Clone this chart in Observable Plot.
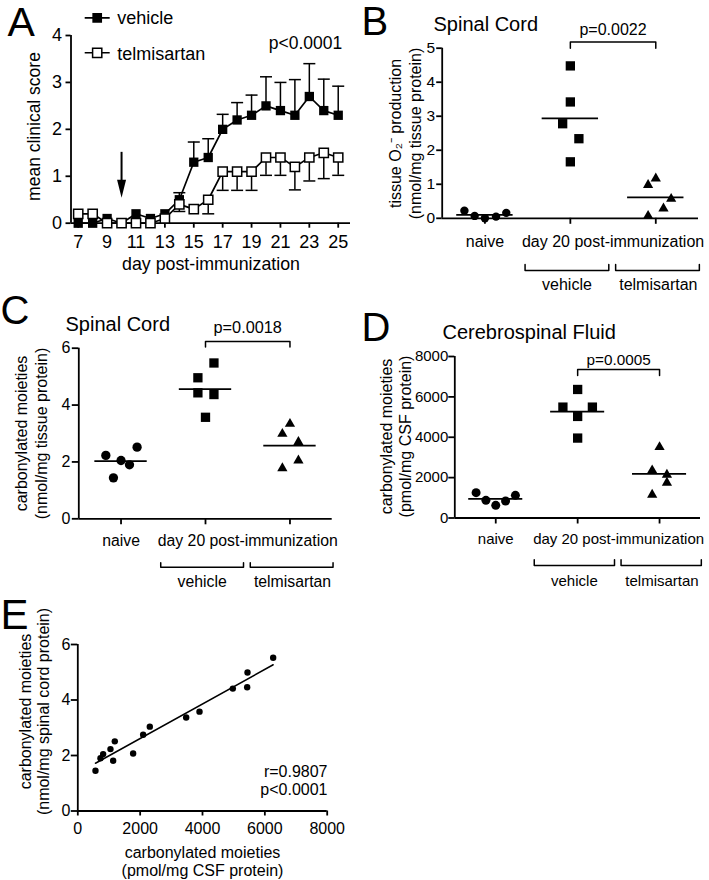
<!DOCTYPE html>
<html><head><meta charset="utf-8">
<script src="https://cdn.jsdelivr.net/npm/d3@7"></script>
<script src="https://cdn.jsdelivr.net/npm/@observablehq/plot@0.6"></script>
<style>
html,body{margin:0;padding:0;background:#fff;}
#fig{position:relative;width:709px;height:880px;overflow:hidden;}
#fig > svg{position:absolute;}
</style></head><body><div id="fig"></div>
<script>
// ---------- DATA ----------
// Panel A: mean clinical score by day
const days = [7,8,9,10,11,12,13,14,15,16,17,18,19,20,21,22,23,24,25];
const vehicleMean = [0,0,0.1,0,0.2,0.1,0.2,0.5,1.3,1.4,2.0,2.2,2.3,2.5,2.4,2.3,2.7,2.4,2.3];
const vehicleSEM  = [0,0,0,0,0,0,0,0.15,0.43,0.4,0.32,0.37,0.43,0.62,0.6,0.76,0.7,0.67,0.62];
const telmiMean   = [0.2,0.2,0,0,0,0,0.1,0.4,0.3,0.5,1.1,1.1,1.1,1.4,1.4,1.2,1.4,1.5,1.4];
const telmiSEM    = [0,0,0,0,0,0,0,0.15,0,0.3,0.4,0.4,0.4,0.38,0.38,0.49,0.5,0.55,0.38];
const legendLabels = ["vehicle", "telmisartan"];
const aTicks = [7,9,11,13,15,17,19,21,23,25];

// Groups for panels B-D
const groupNames = ["naive", "vehicle", "telmisartan"];
const categoryLabels = ["naive", "day 20 post-immunization"];
const treatmentLabels = ["vehicle", "telmisartan"];

// Panel B: tissue O2- production (nmol/mg tissue protein)
const o2Naive   = [0.22,0.07,0.0,0.05,0.16];
const o2Vehicle = [4.48,3.42,2.78,2.34,1.66];
const o2Telmi   = [0.98,1.17,0.57,0.29,0.07];
const o2Spread  = [[-0.24,-0.12,0,0.13,0.25],[0,0,-0.09,0.1,0],[-0.09,0,0.18,0.09,-0.09]];

// Panel C: carbonylated moieties, spinal cord (nmol/mg tissue protein)
const scNaive   = [2.23,1.44,2.05,1.90,2.52];
const scVehicle = [4.96,5.48,4.43,4.37,3.57];
const scTelmi   = [2.99,3.34,2.70,2.05,1.78];
const scSpread  = [[-0.18,-0.09,0,0.1,0.19],[-0.09,0.1,-0.09,0.1,0],[-0.09,0,0.1,0.1,-0.09]];

// Panel D: carbonylated moieties, CSF (pmol/mg CSF protein)
const csfNaive   = [1254,874,627,841,1122];
const csfVehicle = [6367,5493,5493,5031,3959];
const csfTelmi   = [3513,2359,2144,1748,1155];
const csfSpread  = [[-0.24,-0.12,0,0.12,0.24],[0,-0.18,0.18,0,0],[0,-0.09,0.09,0.09,-0.09]];

// Panel E: correlation CSF vs spinal cord
const eCSF = [567,727,813,1048,1134,1187,1775,2096,2310,3476,3904,4973,5433,5444,6267];
const eSC  = [1.45,1.90,2.05,2.23,1.81,2.51,2.07,2.75,3.04,3.37,3.58,4.41,4.46,4.99,5.52];

// ---------- HELPERS ----------
const FONT = '"Liberation Sans", Arial, Helvetica, sans-serif';
const styleFor = (fs) => ({fontFamily: FONT, fontSize: fs + "px", color: "black", background: "transparent", overflow: "visible"});
const intFmt = d3.format("d");
const fig = document.getElementById("fig");

function place(P, svg) {
  svg.style.position = "absolute";
  svg.style.left = P.left + "px";
  svg.style.top = P.top + "px";
  fig.appendChild(svg);
}
// text placed at absolute page coordinates (baseline anchor)
function absText(P, str, ax, ay, o = {}) {
  return Plot.text([str], {text: d => d, frameAnchor: "top-left",
    dx: ax - P.left - P.ml, dy: ay - P.top - P.mt,
    lineAnchor: "bottom", textAnchor: "start", fill: "black", fontFamily: FONT, ...o});
}
const capSym = {draw(c) { c.moveTo(-6, 0); c.lineTo(6, 0); }};
const arrowSym = {draw(c) { c.moveTo(-4.5, -18); c.lineTo(4.5, -18); c.lineTo(0, 0); c.closePath(); }};
const legendSym = (h) => ({draw(c) {
  c.moveTo(-12.5, 0); c.lineTo(-h, 0); c.moveTo(h, 0); c.lineTo(12.5, 0);
  c.moveTo(-h, -h); c.lineTo(h, -h); c.lineTo(h, h); c.lineTo(-h, h); c.closePath();
}});

// ---------- PANEL A ----------
{
  const P = {left: 0, top: 0, width: 360, height: 285, ml: 70.5, mr: 10, mt: 35, mb: 62.3};
  const veh = days.map((d, i) => ({day: d, m: vehicleMean[i], e: vehicleSEM[i]}));
  const tel = days.map((d, i) => ({day: d, m: telmiMean[i], e: telmiSEM[i]}));
  const svg = Plot.plot({
    width: P.width, height: P.height, marginLeft: P.ml, marginRight: P.mr, marginTop: P.mt, marginBottom: P.mb,
    style: styleFor(18),
    x: {domain: [6.5, 25.85]},
    y: {domain: [0, 4]},
    marks: [
      Plot.axisY({ticks: [0,1,2,3,4], tickSize: 5, tickPadding: 4, strokeWidth: 1.8, label: null, tickFormat: intFmt}),
      Plot.axisX({ticks: aTicks, tickSize: 5, tickPadding: 7, strokeWidth: 1.8, label: null, tickFormat: intFmt}),
      Plot.ruleX([6.5], {strokeWidth: 1.8}),
      Plot.ruleY([0], {strokeWidth: 1.8}),
      // treatment start arrow (day 10)
      Plot.ruleX([10], {y1: 1.51, y2: 0.8, strokeWidth: 2}),
      Plot.dot([10], {x: d => d, y: 0.54, symbol: arrowSym, fill: "black", stroke: "none"}),
      // vehicle
      Plot.ruleX(veh.filter(d => d.e > 0), {x: "day", y1: "m", y2: d => d.m + d.e, strokeWidth: 1.5}),
      Plot.dot(veh.filter(d => d.e > 0), {x: "day", y: d => d.m + d.e, symbol: capSym, stroke: "black", fill: "none", strokeWidth: 1.5}),
      Plot.line(veh, {x: "day", y: "m", strokeWidth: 1.7}),
      Plot.dot(veh, {x: "day", y: "m", symbol: "square", r: 5.25, fill: "black", stroke: "none"}),
      // telmisartan
      Plot.ruleX(tel.filter(d => d.e > 0), {x: "day", y1: "m", y2: d => d.m - d.e, strokeWidth: 1.5}),
      Plot.dot(tel.filter(d => d.e > 0), {x: "day", y: d => d.m - d.e, symbol: capSym, stroke: "black", fill: "none", strokeWidth: 1.5}),
      Plot.line(tel, {x: "day", y: "m", strokeWidth: 1.7}),
      Plot.dot(tel, {x: "day", y: "m", symbol: "square", r: 5.2, fill: "white", stroke: "black", strokeWidth: 1.5}),
      // legend
      Plot.dot([0], {frameAnchor: "top-left", dx: 96.7 - P.ml, dy: 17.3 - P.mt, symbol: legendSym(4.0), fill: "black", stroke: "black", strokeWidth: 1.7}),
      Plot.dot([0], {frameAnchor: "top-left", dx: 96.7 - P.ml, dy: 52.3 - P.mt, symbol: legendSym(4.6), fill: "white", stroke: "black", strokeWidth: 1.5}),
      absText(P, legendLabels[0], 116.7, 23.3, {fontSize: 18}),
      absText(P, legendLabels[1], 116.7, 59.3, {fontSize: 18}),
      absText(P, "p<0.0001", 341.7, 48.3, {fontSize: 17.5, textAnchor: "end"}),
      absText(P, "A", 7, 35, {fontSize: 41}),
      absText(P, "mean clinical score", 39.3, 126, {fontSize: 17.5, rotate: -90, textAnchor: "middle"}),
      absText(P, "day post-immunization", 210.5, 269.3, {fontSize: 17.8, textAnchor: "middle"})
    ]
  });
  place(P, svg);
}

// ---------- SCATTER PANELS (B, C, D) ----------
function scatterPanel(P, o) {
  const rows = [];
  o.groups.forEach((vals, g) => vals.forEach((v, i) => rows.push({g, x: g + o.spread[g][i], v})));
  const means = o.groups.map((vals, g) => ({g, m: d3.mean(vals)}));
  const syms = ["circle", "square", "triangle"];
  const br = (x1, x2, yEnd, yLine) => [[x1, yEnd], [x1, yLine], [x2, yLine], [x2, yEnd]];
  const yMin = o.yDomain[0];
  return Plot.plot({
    width: P.width, height: P.height, marginLeft: P.ml, marginRight: P.mr, marginTop: P.mt, marginBottom: P.mb,
    style: styleFor(o.tickFont),
    x: {domain: [-0.5, 2.5]},
    y: {domain: o.yDomain},
    marks: [
      Plot.axisY({ticks: o.yTicks, tickSize: o.tickSize, tickPadding: o.tickPad, strokeWidth: 1.8, label: null, tickFormat: intFmt}),
      Plot.axisX({ticks: [0, 1, 2], tickSize: 6, tickFormat: () => "", strokeWidth: 1.8, label: null}),
      Plot.ruleX([-0.5], {strokeWidth: 1.8}),
      Plot.ruleY([yMin], {strokeWidth: 1.8}),
      ...[0, 1, 2].map(g => Plot.dot(rows.filter(d => d.g === g), {x: "x", y: "v", symbol: syms[g], r: o.r[g], fill: "black", stroke: "none"})),
      Plot.ruleY(means, {y: "m", x1: d => d.g - o.meanHalf, x2: d => d.g + o.meanHalf, strokeWidth: 1.8}),
      // significance bracket
      Plot.line(br(1, 2, o.pb[0], o.pb[1]), {strokeWidth: 1.5}),
      Plot.text([o.pLabel], {text: d => d, x: 1.5, y: o.pb[1], dy: o.pDy, lineAnchor: "bottom", fontSize: o.pFont, fill: "black"}),
      // category labels
      Plot.text(categoryLabels, {text: d => d, x: (d, i) => (i === 0 ? 0 : 1.5), y: yMin, dy: o.catDy, lineAnchor: "bottom", fontSize: o.catFont, fill: "black"}),
      // treatment brackets and labels
      Plot.line(br(0.47, 1.45, o.cb[0], o.cb[1]), {strokeWidth: 1.5}),
      Plot.line(br(1.53, 2.51, o.cb[0], o.cb[1]), {strokeWidth: 1.5}),
      Plot.text(treatmentLabels, {text: d => d, x: (d, i) => (i === 0 ? 0.96 : 2.03), y: yMin, dy: o.treatDy, lineAnchor: "bottom", fontSize: o.catFont, fill: "black"}),
      ...o.extra
    ]
  });
}

// Panel B
{
  const P = {left: 360, top: 0, width: 349, height: 300, ml: 81.7, mr: 11, mt: 47.7, mb: 82.2};
  place(P, scatterPanel(P, {
    groups: [o2Naive, o2Vehicle, o2Telmi], spread: o2Spread,
    yDomain: [0, 5], yTicks: [0,1,2,3,4,5], tickSize: 5.5, tickPad: 1.5, tickFont: 15.5,
    r: [4.2, 5.25, 3.8], meanHalf: 0.33,
    pb: [5.0, 5.18], pLabel: "p=0.0022", pDy: -7, pFont: 16,
    catDy: 28.2, catFont: 16, cb: [-1.355, -1.531], treatDy: 71.7,
    extra: [
      absText(P, "B", 361, 34, {fontSize: 40}),
      absText(P, "Spinal Cord", 433, 30.7, {fontSize: 20}),
      absText(P, "tissue O\u2082\u207B production\n(nmol/mg tissue protein)", 420, 133, {fontSize: 16, rotate: -90, textAnchor: "middle", lineHeight: 1.19})
    ]
  }));
}

// Panel C
{
  const P = {left: 0, top: 290, width: 360, height: 300, ml: 78.3, mr: 28.3, mt: 57.7, mb: 71.7};
  place(P, scatterPanel(P, {
    groups: [scNaive, scVehicle, scTelmi], spread: scSpread,
    yDomain: [0, 6], yTicks: [0,2,4,6], tickSize: 6.5, tickPad: 2, tickFont: 16,
    r: [4.65, 5.25, 3.8], meanHalf: 0.31,
    pb: [6.04, 6.235], pLabel: "p=0.0018", pDy: -8.5, pFont: 16.3,
    catDy: 26.7, catFont: 15.8, cb: [-1.55, -1.70], treatDy: 68.4,
    extra: [
      absText(P, "C", 0, 323.3, {fontSize: 40}),
      absText(P, "Spinal Cord", 65, 330, {fontSize: 20}),
      absText(P, "carbonylated moieties\n(nmol/mg tissue protein)", 46, 433, {fontSize: 16, rotate: -90, textAnchor: "middle", lineHeight: 1.19})
    ]
  }));
}

// Panel D
{
  const P = {left: 360, top: 290, width: 349, height: 300, ml: 94.3, mr: 9, mt: 66, mb: 72.5};
  place(P, scatterPanel(P, {
    groups: [csfNaive, csfVehicle, csfTelmi], spread: csfSpread,
    yDomain: [0, 8000], yTicks: [0,2000,4000,6000,8000], tickSize: 6, tickPad: 0.5, tickFont: 15,
    r: [4.5, 5.25, 3.8], meanHalf: 0.33,
    pb: [7059, 7356], pLabel: "p=0.0005", pDy: -5, pFont: 15.3,
    catDy: 26, catFont: 15, cb: [-2070, -2353], treatDy: 67.5,
    extra: [
      absText(P, "D", 361, 340, {fontSize: 40}),
      absText(P, "Cerebrospinal Fluid", 442, 338.3, {fontSize: 20}),
      absText(P, "carbonylated moieties\n(pmol/mg CSF protein)", 410.7, 436, {fontSize: 16, rotate: -90, textAnchor: "middle", lineHeight: 1.17})
    ]
  }));
}

// ---------- PANEL E ----------
{
  const P = {left: 0, top: 590, width: 360, height: 290, ml: 77.3, mr: 33.3, mt: 54, mb: 69.5};
  const rows = eCSF.map((x, i) => ({csf: x, sc: eSC[i]}));
  const svg = Plot.plot({
    width: P.width, height: P.height, marginLeft: P.ml, marginRight: P.mr, marginTop: P.mt, marginBottom: P.mb,
    style: styleFor(16),
    x: {domain: [0, 8000]},
    y: {domain: [0, 6]},
    marks: [
      Plot.axisY({ticks: [0,2,4,6], tickSize: 6.5, tickPadding: 1, strokeWidth: 1.8, label: null, tickFormat: intFmt}),
      Plot.axisX({ticks: [0,2000,4000,6000,8000], tickSize: 5, tickPadding: 7, strokeWidth: 1.8, label: null, tickFormat: intFmt}),
      Plot.ruleX([0], {strokeWidth: 1.8}),
      Plot.ruleY([0], {strokeWidth: 1.8}),
      Plot.linearRegressionY(rows, {x: "csf", y: "sc", ci: 0, stroke: "black", strokeWidth: 1.5}),
      Plot.dot(rows, {x: "csf", y: "sc", r: 3.2, fill: "black", stroke: "none"}),
      absText(P, "r=0.9807\np<0.0001", 327, 794, {fontSize: 16, textAnchor: "end", lineHeight: 1.08}),
      absText(P, "E", 0, 628, {fontSize: 42}),
      absText(P, "carbonylated moieties\n(nmol/mg spinal cord protein)", 48, 711, {fontSize: 16, rotate: -90, textAnchor: "middle", lineHeight: 1.12}),
      absText(P, "carbonylated moieties\n(pmol/mg CSF protein)", 202, 875, {fontSize: 16, textAnchor: "middle", lineHeight: 1.1})
    ]
  });
  place(P, svg);
}
</script>
</body></html>
